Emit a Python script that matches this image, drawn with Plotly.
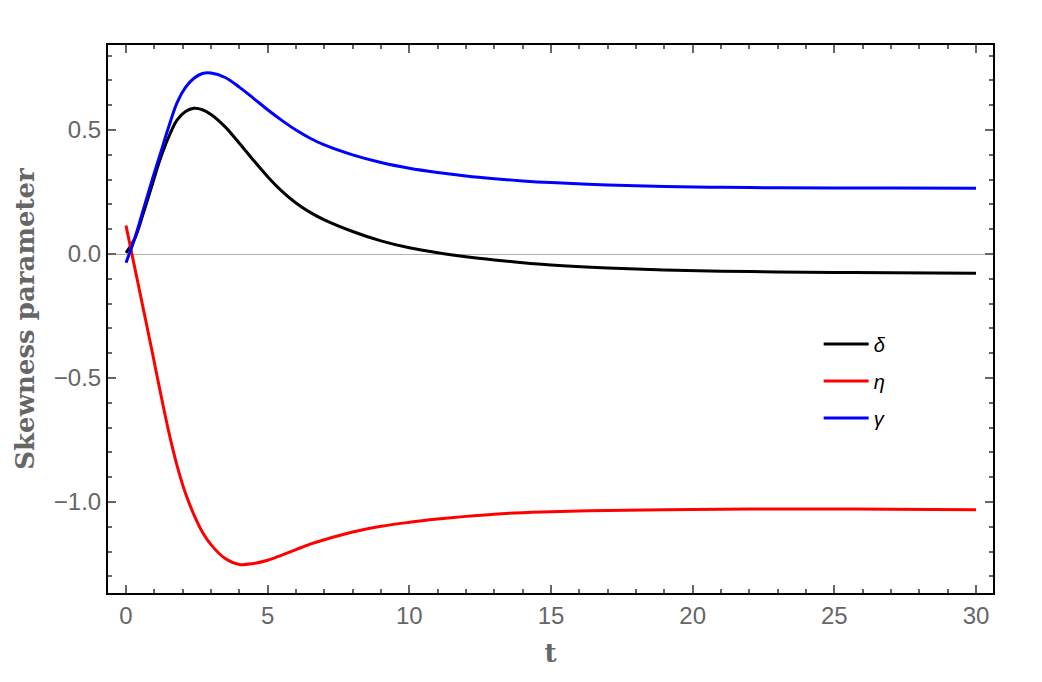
import plotly.graph_objects as go

t = [0, 0.3, 0.6, 0.9, 1.2, 1.5, 1.8, 2.1, 2.4, 2.7, 3.0, 3.5, 4.0, 4.5, 5.0, 5.5,
     6.0, 6.5, 7.0, 8.0, 9.0, 10.0, 11.0, 12.0, 13.0, 14.0, 15.0, 17.0, 19.0, 21.0,
     23.0, 25.0, 27.0, 30.0]

delta = [0.005, 0.06, 0.16, 0.27, 0.38, 0.47, 0.54, 0.575, 0.588, 0.582, 0.563, 0.513,
         0.447, 0.378, 0.312, 0.254, 0.206, 0.168, 0.138, 0.091, 0.053, 0.025, 0.005, -0.011,
         -0.024, -0.035, -0.044, -0.056, -0.064, -0.069, -0.072, -0.074, -0.075, -0.077]

eta = [0.115, -0.05, -0.215, -0.38, -0.55, -0.712, -0.852, -0.965, -1.052, -1.122, -1.172,
       -1.228, -1.252, -1.248, -1.235, -1.214, -1.192, -1.17, -1.152, -1.121, -1.098, -1.082,
       -1.069, -1.058, -1.049, -1.043, -1.039, -1.034, -1.031, -1.029, -1.028, -1.028,
       -1.029, -1.031]

gamma = [-0.035, 0.06, 0.175, 0.29, 0.40, 0.51, 0.61, 0.672, 0.709, 0.728, 0.73, 0.712,
         0.673, 0.628, 0.582, 0.539, 0.50, 0.467, 0.44, 0.40, 0.369, 0.346, 0.329, 0.315,
         0.304, 0.295, 0.288, 0.278, 0.272, 0.269, 0.267, 0.266, 0.266, 0.265]

names = ["<i>δ</i>", "<i>η</i>", "<i>γ</i>"]
colors = ["#000000", "#ff0000", "#0000ff"]

fig = go.Figure()
for i, (y, nm, c) in enumerate(zip([delta, eta, gamma], names, colors)):
    fig.add_trace(go.Scatter(x=t, y=y, mode="lines", name=nm, legendgroup=str(i),
                             line=dict(color=c, width=3, shape="spline", smoothing=1.0)))

tickfont = dict(family="Liberation Sans, Arial, sans-serif", size=24, color="#666666")
titlefont = dict(family="DejaVu Serif, serif", size=26, color="#666666", weight="bold")

fig.update_layout(
    width=1042, height=682,
    margin=dict(l=108, r=49, t=45, b=89),
    paper_bgcolor="white", plot_bgcolor="white",
    showlegend=True,
    legend=dict(x=0.803, y=0.49, xanchor="left", yanchor="top",
                font=dict(family="Liberation Sans, Arial, sans-serif", size=20, color="#000000"),
                bgcolor="rgba(0,0,0,0)", tracegroupgap=8, itemwidth=45),
    xaxis=dict(
        range=[-0.635, 30.6], showgrid=False, zeroline=False,
        showline=True, linecolor="black", linewidth=2, mirror="allticks",
        ticks="inside", ticklen=8, tickwidth=1.5, tickcolor="#666666",
        tickmode="linear", tick0=0, dtick=5,
        minor=dict(ticks="inside", ticklen=4, tickwidth=1.5, tickcolor="#666666", dtick=1, showgrid=False),
        tickfont=tickfont,
        title=dict(text="t", font=titlefont, standoff=16),
    ),
    yaxis=dict(
        range=[-1.367, 0.843], showgrid=False, zeroline=True, zerolinecolor="#b0b0b0",
        zerolinewidth=1,
        showline=True, linecolor="black", linewidth=2, mirror="allticks",
        ticks="inside", ticklen=8, tickwidth=1.5, tickcolor="#666666",
        tickmode="linear", tick0=0, dtick=0.5, tickformat=".1f",
        minor=dict(ticks="inside", ticklen=4, tickwidth=1.5, tickcolor="#666666", dtick=0.1, showgrid=False),
        tickfont=tickfont,
        title=dict(text="Skewness parameter", font=titlefont, standoff=12),
    ),
)

fig.write_html("out.html")
